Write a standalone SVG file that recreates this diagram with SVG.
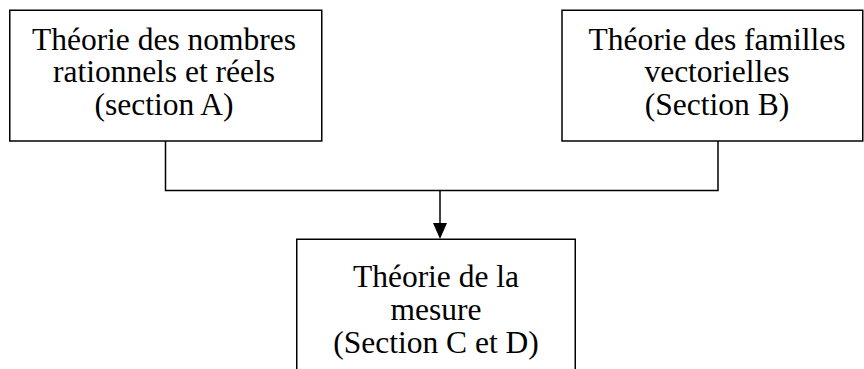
<svg xmlns="http://www.w3.org/2000/svg" width="864" height="369" viewBox="0 0 864 369">
  <style>
    .box { fill: #ffffff; stroke: #000000; stroke-width: 1.5; }
    .lbl { font-family: "Liberation Serif", "Times New Roman", serif; font-size: 31.5px; fill: #000000; text-anchor: middle; }
    .conn { fill: none; stroke: #000000; stroke-width: 1.5; }
  </style>
  <defs>
    <marker id="arrow" viewBox="0 0 14 16" refX="7" refY="16" markerWidth="14" markerHeight="16" markerUnits="userSpaceOnUse" orient="auto-start-reverse">
      <path d="M0,0 L14,0 L7,16 Z" fill="#000000"/>
    </marker>
  </defs>
  <rect width="864" height="369" fill="#ffffff"/>
  <g id="connectors">
    <polyline class="conn" points="165.5,141 165.5,190.5 718,190.5 718,141"/>
    <line class="conn" x1="440" y1="190.5" x2="440" y2="223"/>
    <path d="M433,223 L447,223 L440,239 Z" fill="#000000"/>
  </g>
  <g id="node-a">
    <rect class="box" x="9.75" y="10.25" width="312" height="130.75"/>
    <text class="lbl" x="164" y="49.5">Théorie des nombres</text>
    <text class="lbl" x="164" y="82">rationnels et réels</text>
    <text class="lbl" x="164" y="114.5">(section A)</text>
  </g>
  <g id="node-b">
    <rect class="box" x="562" y="10.25" width="300.75" height="130.75"/>
    <text class="lbl" x="717" y="49.5">Théorie des familles</text>
    <text class="lbl" x="717" y="82">vectorielles</text>
    <text class="lbl" x="717" y="114.5">(Section B)</text>
  </g>
  <g id="node-c">
    <rect class="box" x="296.75" y="239.25" width="278.5" height="140"/>
    <text class="lbl" x="436" y="287">Théorie de la</text>
    <text class="lbl" x="436" y="320">mesure</text>
    <text class="lbl" x="436" y="353">(Section C et D)</text>
  </g>
</svg>
